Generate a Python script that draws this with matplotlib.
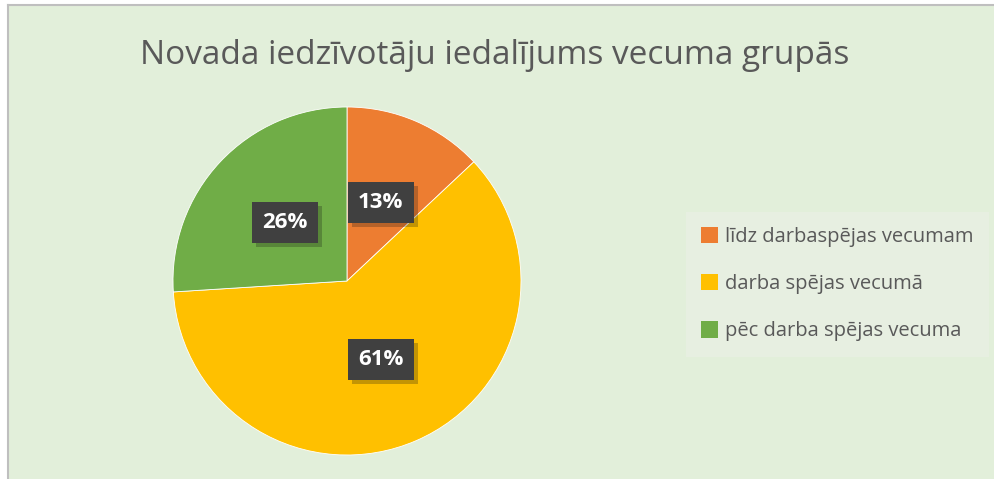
import matplotlib.pyplot as plt
import matplotlib.patheffects as pe
from matplotlib.patches import Patch

title = "Novada iedzīvotāju iedalījums vecuma grupās"
categories = ["līdz darbaspējas vecumam", "darba spējas vecumā", "pēc darba spējas vecuma"]
shares = [13, 61, 26]
colors = ["#ED7D31", "#FFC000", "#70AD47"]

W, H = 994, 479
fig = plt.figure(figsize=(W / 100, H / 100), dpi=100)
fig.patch.set_facecolor("white")

# chart area background with grey border on left/top
bg = fig.add_axes([8 / W, 0, 1 - 8 / W, 1 - 5 / H], zorder=-1)
bg.set_facecolor("#E2EFDA")
bg.set_xticks([])
bg.set_yticks([])
for side in ["right", "bottom"]:
    bg.spines[side].set_visible(False)
for side in ["left", "top"]:
    bg.spines[side].set_color("#BFBFBF")
    bg.spines[side].set_linewidth(1.5)

fig.text(495 / W, 1 - 55 / H, title, ha="center", va="center",
         fontsize=24, color="#595959", family="Open Sans")

cx, cy, r = 347, 281, 174
ax = fig.add_axes([(cx - r) / W, (H - cy - r) / H, 2 * r / W, 2 * r / H])
wedges, texts, autotexts = ax.pie(shares, colors=colors, startangle=90, counterclock=False,
                                  autopct="%d%%", pctdistance=0.49, radius=1,
                                  wedgeprops=dict(edgecolor="white", linewidth=0.6),
                                  textprops=dict(color="white", fontsize=16, fontweight="bold",
                                                 family="Open Sans"))
for t in autotexts:
    t.set_bbox(dict(boxstyle="square,pad=0.45", facecolor="#404040", edgecolor="none"))
    t.get_bbox_patch().set_path_effects([pe.SimplePatchShadow(offset=(3, -3), alpha=0.25),
                                         pe.Normal()])
ax.set_xlim(-1, 1)
ax.set_ylim(-1, 1)
ax.axis("off")

handles = [Patch(facecolor=c, edgecolor="none") for c in colors]
leg = fig.legend(handles, categories, loc="upper left",
                 bbox_to_anchor=(686 / W, 1 - 212 / H), frameon=True,
                 labelcolor="#595959", handlelength=0.85, handleheight=0.85,
                 handletextpad=0.35, labelspacing=1.35, borderpad=0.75, borderaxespad=0,
                 fancybox=False, prop=dict(family="Open Sans", size=14.5))
leg.get_frame().set_facecolor("#E7EFE1")
leg.get_frame().set_edgecolor("none")
leg.get_frame().set_alpha(1)

fig.savefig("out.png", dpi=100)
